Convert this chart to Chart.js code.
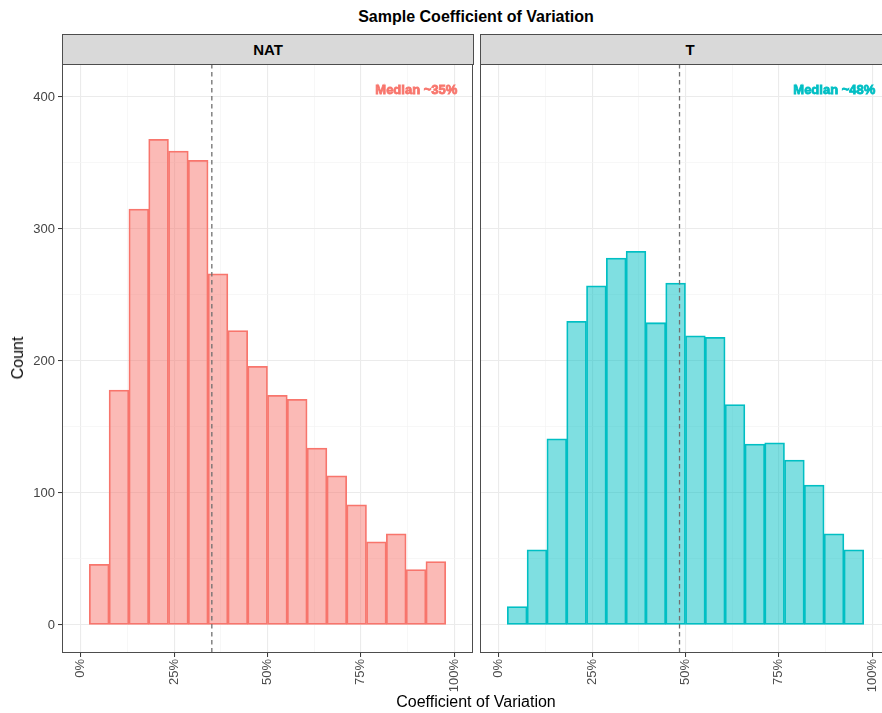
<!DOCTYPE html>
<html>
<head>
<meta charset="utf-8">
<title>Sample Coefficient of Variation</title>
<script src="https://cdn.jsdelivr.net/npm/chart.js@4.4.1/dist/chart.umd.min.js"></script>
<style>
  html, body { margin: 0; padding: 0; width: 882px; height: 713px; overflow: hidden; background: #fff;
    font-family: "Liberation Sans", Arial, Helvetica, sans-serif; color: #000; }
  .abs { position: absolute; }
  canvas { position: absolute; }
  #title { left: 0; top: 9px; width: 952px; text-align: center; font-weight: bold; font-size: 16px; line-height: 16px; }
  #xtitle { left: 0; top: 694px; width: 952px; text-align: center; font-size: 16px; line-height: 16px; }
  #ytitle { left: 18px; top: 358px; font-size: 16px; line-height: 16px; transform: translate(-50%, -50%) rotate(-90deg); white-space: nowrap; }
  .strip { box-sizing: border-box; top: 34px; height: 31px; background: #D9D9D9; border: 1px solid #4d4d4d;
    display: flex; align-items: center; justify-content: center; font-weight: bold; font-size: 15px; z-index: 2; }
</style>
</head>
<body>
<canvas id="natPanel" width="475" height="653" style="left:0px; top:60px;"></canvas>
<canvas id="tPanel" width="420" height="653" style="left:476px; top:60px;"></canvas>
<div id="title" class="abs">Sample Coefficient of Variation</div>
<div class="abs strip" style="left:62px; width:412px;">NAT</div>
<div class="abs strip" style="left:480px; width:420px;">T</div>
<div id="ytitle" class="abs">Count</div>
<div id="xtitle" class="abs">Coefficient of Variation</div>
<script>
// Histogram bins (bin centres, % coefficient of variation)
const binCenters = [4.95, 10.25, 15.55, 20.85, 26.15, 31.45, 36.75, 42.05, 47.35,
                    52.65, 57.95, 63.25, 68.55, 73.85, 79.15, 84.45, 89.75, 95.05];
// Counts per bin for each facet
const natCounts = [46, 178, 315, 368, 359, 352, 266, 223, 196, 174, 171, 134, 113, 91, 63, 69, 42, 48];
const tCounts   = [14, 57, 141, 230, 257, 278, 283, 229, 259, 219, 218, 167, 137, 138, 125, 106, 69, 57];
// Median of each facet (%)
const natMedian = 35.1;
const tMedian = 48.4;
const natLabel = "Median ~35%";
const tLabel = "Median ~48%";
// Axis breaks: labelled majors and unlabelled minors
const xMajor = [0, 25, 50, 75, 100];
const xMinor = [12.5, 37.5, 62.5, 87.5];
const yMajor = [0, 100, 200, 300, 400];
const yMinor = [50, 150, 250, 350];

Chart.defaults.font.family = "'Liberation Sans', Arial, Helvetica, sans-serif";

const xBreaks = xMajor.concat(xMinor).sort((a, b) => a - b);
const yBreaks = yMajor.concat(yMinor).sort((a, b) => a - b);

// Panel border, dashed median line and the median annotation
const panelDecor = {
  id: 'panelDecor',
  afterDatasetsDraw(chart, args, opts) {
    const { ctx, chartArea: a, scales } = chart;
    const x = scales.x.getPixelForValue(opts.median);
    ctx.save();
    ctx.beginPath();
    ctx.rect(a.left, a.top, a.right - a.left, a.bottom - a.top);
    ctx.clip();
    ctx.strokeStyle = '#707070';
    ctx.lineWidth = 1.3;
    ctx.setLineDash([4.5, 3.5]);
    ctx.beginPath();
    ctx.moveTo(x, a.top);
    ctx.lineTo(x, a.bottom);
    ctx.stroke();
    ctx.restore();
  },
  afterDraw(chart, args, opts) {
    const { ctx, chartArea: a, scales } = chart;
    ctx.save();
    ctx.font = "bold 13px 'Liberation Sans', Arial, sans-serif";
    ctx.fillStyle = opts.color;
    ctx.strokeStyle = opts.color;
    ctx.lineWidth = 0.8;
    ctx.textAlign = 'right';
    ctx.textBaseline = 'middle';
    const lx = scales.x.getPixelForValue(100.8);
    const ly = scales.y.getPixelForValue(405);
    ctx.fillText(opts.label, lx, ly);
    ctx.strokeText(opts.label, lx, ly);
    ctx.strokeStyle = '#4d4d4d';
    ctx.lineWidth = 1;
    ctx.setLineDash([]);
    ctx.strokeRect(Math.round(a.left) + 0.5, Math.round(a.top) + 0.5,
                   Math.round(a.right - a.left) - 1, Math.round(a.bottom - a.top) - 1);
    ctx.restore();
  }
};

function gridColor(majors) {
  return ctx => majors.includes(ctx.tick.value) ? '#EBEBEB' : '#F3F3F3';
}
function gridWidth(majors) {
  return ctx => majors.includes(ctx.tick.value) ? 1.1 : 0.7;
}
function tickColor(majors) {
  return ctx => majors.includes(ctx.tick.value) ? '#333333' : 'rgba(0,0,0,0)';
}

function makePanel(id, counts, fill, stroke, median, label, withYAxis, padding) {
  return new Chart(document.getElementById(id), {
    type: 'bar',
    data: {
      datasets: [{
        data: binCenters.map((c, i) => ({ x: c, y: counts[i] })),
        backgroundColor: fill,
        borderColor: stroke,
        borderWidth: 1.1,
        borderSkipped: false,
        barPercentage: 1,
        categoryPercentage: 1
      }]
    },
    options: {
      responsive: false,
      animation: false,
      devicePixelRatio: 1,
      layout: { padding: padding },
      plugins: {
        legend: { display: false },
        tooltip: { enabled: false },
        title: { display: false },
        panelDecor: { median: median, label: label, color: stroke }
      },
      scales: {
        x: {
          type: 'linear',
          min: -5,
          max: 105,
          offset: false,
          afterBuildTicks: s => { s.ticks = xBreaks.map(v => ({ value: v })); },
          afterFit: s => { s.height = 60; s.paddingLeft = 0; s.paddingRight = 0; },
          border: { display: false },
          grid: {
            offset: false,
            color: gridColor(xMajor),
            lineWidth: gridWidth(xMajor),
            drawTicks: true,
            tickLength: 4,
            tickWidth: 1,
            tickColor: tickColor(xMajor)
          },
          ticks: {
            autoSkip: false,
            minRotation: 90,
            maxRotation: 90,
            padding: 2,
            color: '#4D4D4D',
            font: { size: 13 },
            callback: v => xMajor.includes(v) ? v + '%' : ''
          }
        },
        y: {
          min: -21.25,
          max: 425,
          afterBuildTicks: s => { s.ticks = yBreaks.map(v => ({ value: v })); },
          afterFit: s => { s.width = withYAxis ? 62 : 0; s.paddingTop = 0; s.paddingBottom = 0; },
          border: { display: false },
          grid: {
            color: gridColor(yMajor),
            lineWidth: gridWidth(yMajor),
            drawTicks: withYAxis,
            tickLength: 4,
            tickWidth: 1,
            tickColor: tickColor(yMajor)
          },
          ticks: {
            display: withYAxis,
            autoSkip: false,
            padding: 3,
            color: '#444444',
            font: { size: 13 },
            callback: v => yMajor.includes(v) ? String(v) : ''
          }
        }
      }
    },
    plugins: [panelDecor]
  });
}

makePanel('natPanel', natCounts, 'rgba(248,118,109,0.5)', '#F8766D', natMedian, natLabel, true,
          { left: 0, top: 4, right: 2, bottom: 0 });
makePanel('tPanel', tCounts, 'rgba(0,191,196,0.5)', '#00BFC4', tMedian, tLabel, false,
          { left: 4, top: 4, right: 5, bottom: 0 });
</script>
</body>
</html>
